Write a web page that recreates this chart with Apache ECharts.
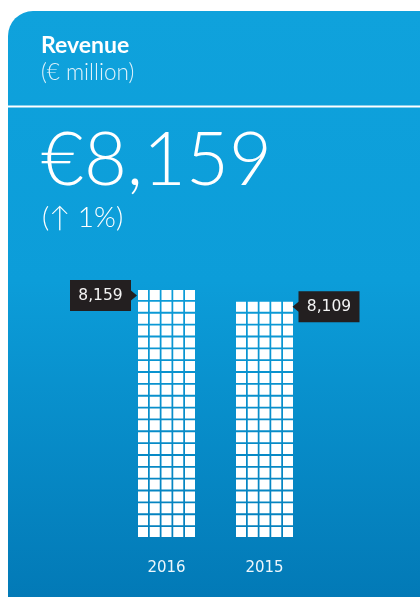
<!DOCTYPE html>
<html>
<head>
<meta charset="utf-8">
<script src="https://cdn.jsdelivr.net/npm/echarts@6/dist/echarts.min.js"></script>
<style>
  html, body { margin: 0; padding: 0; background: #fff; }
  #main { width: 420px; height: 597px; }
</style>
</head>
<body>
<div id="main"></div>
<script>
// data
var years = ['2016', '2015'];
var revenue = [8159, 8109];
var headline = '€8,159';
var change = '(↑ 1%)';
var baseline = 7150; // bars are drawn from here, not from zero

var chart = echarts.init(document.getElementById('main'), null, { renderer: 'canvas' });

// one row of five white cells
var rowPath = 'path://M0,0h10v10h-10z M11.75,0h10v10h-10z M23.5,0h10v10h-10z M35.25,0h10v10h-10z M47,0h10v10h-10z';
// callouts: arrow on right side / arrow on left side
var calloutLeft = 'path://M0,0H61V10.5L67,15.5L61,20.5V31H0Z';
var calloutRight = 'path://M6,0H67V31H6V20.5L0,15.5L6,10.5Z';

var barData = revenue.map(function (v) { return v - baseline; });

var calloutData = revenue.map(function (v, i) {
  var left = i === 0;
  return {
    value: v - baseline,
    revenue: v,
    symbol: left ? calloutLeft : calloutRight,
    symbolOffset: left ? [-63, 5.5] : [61.5, 4.5],
    label: { offset: left ? [-3, 0] : [3, 0] }
  };
});

var option = {
  animation: false,
  graphic: [{
    type: 'rect',
    shape: { x: 8, y: 11, width: 420, height: 600, r: [25, 0, 0, 0] },
    style: {
      fill: new echarts.graphic.LinearGradient(0, 0, 0, 1, [
        { offset: 0, color: '#0fa2dc' },
        { offset: 0.45, color: '#0c9dd9' },
        { offset: 1, color: '#0278b5' }
      ])
    },
    z: -10
  }, {
    type: 'line',
    shape: { x1: 8, y1: 106.5, x2: 420, y2: 106.5 },
    style: { stroke: '#ffffff', lineWidth: 2 },
    z: -5
  }],
  title: [{
    text: 'Revenue',
    left: 41, top: 34, padding: 0,
    textStyle: { color: '#fff', fontFamily: 'Lato', fontWeight: 'bold', fontSize: 23 }
  }, {
    text: '(€ million)',
    left: 41, top: 61, padding: 0,
    textStyle: { color: '#e2f3fb', fontFamily: 'Lato', fontWeight: 300, fontSize: 22.5 }
  }, {
    text: headline,
    left: 41, top: 124, padding: 0,
    textStyle: { color: '#fff', fontFamily: 'Lato', fontWeight: 300, fontSize: 74 }
  }, {
    text: change,
    left: 42, top: 204, padding: 0,
    textStyle: { color: '#fff', fontFamily: 'Lato', fontWeight: 300, fontSize: 28 }
  }],
  grid: { left: 117.5, right: 106.5, top: 290, bottom: 60 },
  xAxis: {
    type: 'category',
    data: years,
    axisLine: { show: false },
    axisTick: { show: false },
    axisLabel: { color: '#eef7fc', fontFamily: 'DejaVu Sans', fontSize: 15, margin: 24 }
  },
  yAxis: {
    type: 'value',
    show: false,
    min: 0,
    max: Math.max.apply(null, barData)
  },
  series: [{
    type: 'pictorialBar',
    data: barData,
    symbol: rowPath,
    symbolSize: [57, 10],
    symbolRepeat: true,
    symbolMargin: 1,
    itemStyle: { color: '#fff' },
    z: 2
  }, {
    type: 'scatter',
    data: calloutData,
    symbolSize: [67, 31],
    itemStyle: { color: '#231f20', opacity: 1 },
    label: {
      show: true,
      position: 'inside',
      color: '#f4f4f4',
      fontFamily: 'DejaVu Sans',
      fontSize: 15.5,
      formatter: function (p) { return echarts.format.addCommas(p.data.revenue); }
    },
    z: 3
  }]
};

chart.setOption(option);
</script>
</body>
</html>
